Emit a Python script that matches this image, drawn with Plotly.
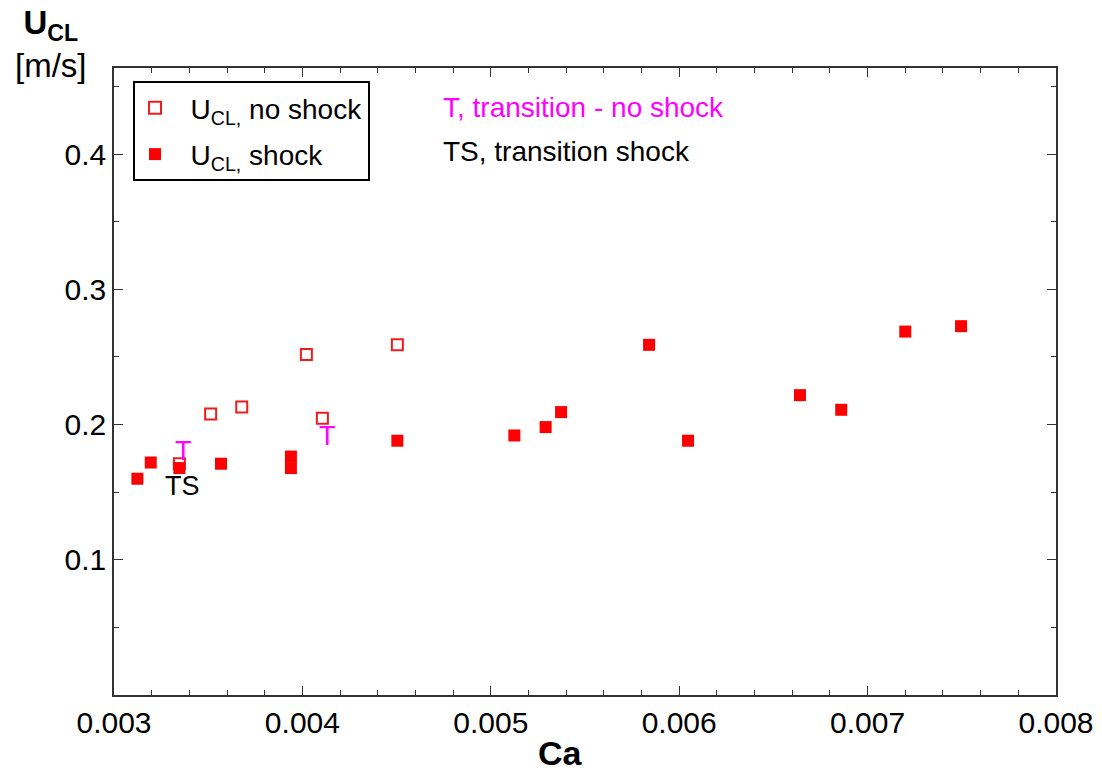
import plotly.graph_objects as go

# Data
ca_shock = [0.003124, 0.003195, 0.003347, 0.003568, 0.003939, 0.003939, 0.004504,
            0.005125, 0.005291, 0.005373, 0.005840, 0.006047, 0.006641, 0.006860,
            0.007200, 0.007496]
u_shock = [0.1599, 0.1719, 0.1678, 0.1710, 0.1763, 0.1678, 0.1880,
           0.1919, 0.1981, 0.2092, 0.2589, 0.1880, 0.2217, 0.2109,
           0.2687, 0.2727]

ca_noshock = [0.003347, 0.003513, 0.003678, 0.004021, 0.004106, 0.004504]
u_noshock = [0.1710, 0.2077, 0.2129, 0.2517, 0.2047, 0.2589]

# Point labels
point_labels_x = [0.003371, 0.004131, 0.003361]
point_labels_y = [0.1806, 0.1916, 0.1542]
point_labels_text = ["T", "T", "TS"]
point_labels_color = ["#ff00ff", "#ff00ff", "#000000"]

x_ticks = [0.003, 0.004, 0.005, 0.006, 0.007, 0.008]
x_ticklabels = ["0.003", "0.004", "0.005", "0.006", "0.007", "0.008"]
y_ticks = [0.1, 0.2, 0.3, 0.4]
y_ticklabels = ["0.1", "0.2", "0.3", "0.4"]

FONT = "Arial, 'Liberation Sans', sans-serif"

# full-window figure; page body margin removed in post_script
W, H = 1102, 776
ML, MR, MT, MB = 114, 46, 68, 81
PW = 942.0
PH = 627.0
PX0, PY1 = 114.0, 695.0  # page px of plot left / bottom


def px(xp):
    return (xp - PX0) / PW


def py(yp):
    return (PY1 - yp) / PH


fig = go.Figure()
fig.add_trace(go.Scatter(
    x=ca_noshock, y=u_noshock, mode="markers",
    name="&nbsp;&nbsp;U<sub>CL,</sub> no shock", legendgroup="a",
    marker=dict(symbol="square-open", size=11, color="#ee1c1c",
                line=dict(width=2, color="#ee1c1c")),
))
fig.add_trace(go.Scatter(
    x=ca_shock, y=u_shock, mode="markers",
    name="&nbsp;&nbsp;U<sub>CL,</sub> shock", legendgroup="b",
    marker=dict(symbol="square", size=12, color="#ff0000",
                line=dict(width=0)),
))

for x, y, t, c in zip(point_labels_x, point_labels_y, point_labels_text, point_labels_color):
    fig.add_annotation(x=x, y=y, xref="x", yref="y", text=t, showarrow=False,
                       font=dict(family=FONT, size=27, color=c),
                       xanchor="center", yanchor="middle")

fig.add_annotation(x=px(441), y=py(107), xref="paper", yref="paper",
                   text="T, transition - no shock", showarrow=False,
                   xanchor="left", yanchor="middle",
                   font=dict(family=FONT, size=28, color="#ff00ff"))
fig.add_annotation(x=px(441), y=py(151), xref="paper", yref="paper",
                   text="TS, transition shock", showarrow=False,
                   xanchor="left", yanchor="middle",
                   font=dict(family=FONT, size=28, color="#000000"))

# y-axis title (two lines) and x-axis title
fig.add_annotation(x=px(51), y=py(44), xref="paper", yref="paper",
                   text="<b>U<sub>CL</sub></b><br>[m/s]", showarrow=False,
                   xanchor="center", yanchor="middle", align="center",
                   font=dict(family=FONT, size=33, color="#000000"))
fig.add_annotation(x=px(560), y=py(753), xref="paper", yref="paper",
                   text="<b>Ca</b>", showarrow=False,
                   xanchor="center", yanchor="middle",
                   font=dict(family=FONT, size=34, color="#000000"))

axis_common = dict(
    showline=True, linecolor="#333333", linewidth=1.5, mirror="ticks",
    ticks="inside", ticklen=9, tickwidth=1.2, tickcolor="#333333",
    showgrid=False, zeroline=False,
    tickfont=dict(family=FONT, size=30, color="#000000"),
)

fig.update_xaxes(range=[0.003, 0.008], tickvals=x_ticks, ticktext=x_ticklabels,
                 minor=dict(ticks="inside", ticklen=5, dtick=0.0002, tick0=0.003,
                            tickcolor="#333333", tickwidth=1.2, showgrid=False),
                 **axis_common)
fig.update_yaxes(range=[0, 0.4636], tickvals=y_ticks, ticktext=y_ticklabels,
                 minor=dict(ticks="inside", ticklen=5, dtick=0.05, tick0=0,
                            tickcolor="#333333", tickwidth=1.2, showgrid=False),
                 **axis_common)

fig.update_layout(
    width=W, height=H,
    margin=dict(l=ML, r=MR, t=MT, b=MB, autoexpand=False),
    paper_bgcolor="white", plot_bgcolor="white",
    showlegend=True,
    legend=dict(x=px(133), y=py(81), xanchor="left", yanchor="top",
                bgcolor="white", bordercolor="#000000", borderwidth=2,
                font=dict(family=FONT, size=28, color="#000000"),
                tracegroupgap=7, itemsizing="constant"),
    font=dict(family=FONT),
)

fig.write_html(
    "out.html",
    config={"displayModeBar": False},
    post_script="document.body.style.margin='0';document.body.style.overflow='hidden';",
)
